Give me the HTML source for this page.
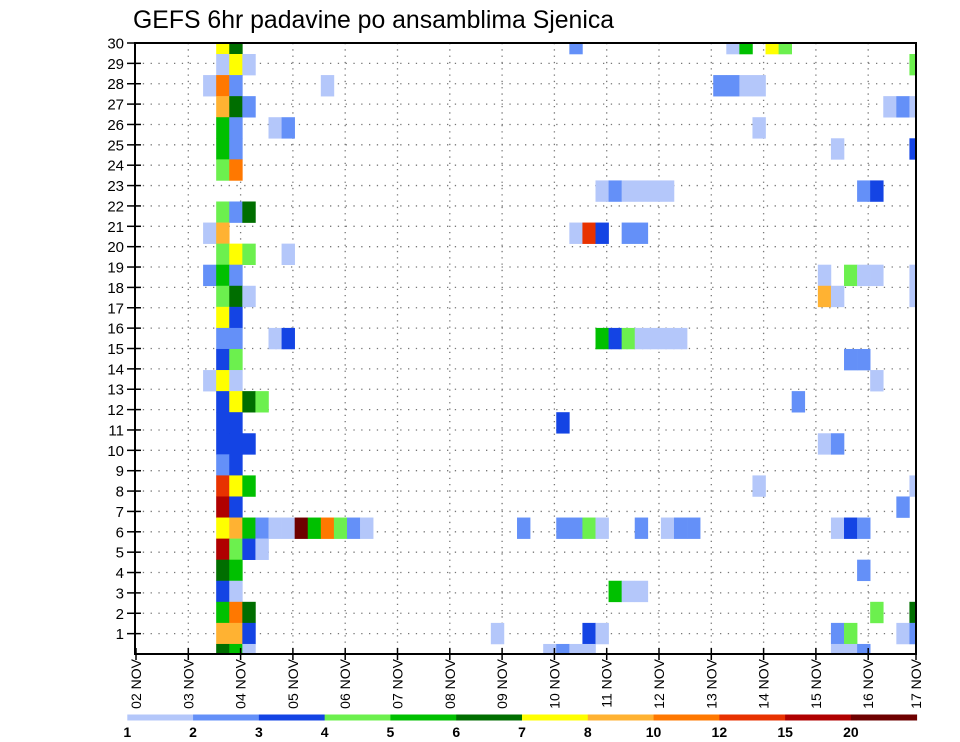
<!DOCTYPE html>
<html><head><meta charset="utf-8"><style>
html,body{margin:0;padding:0;background:#fff;}
svg{display:block;font-family:"Liberation Sans",sans-serif;}
</style></head><body>
<svg id="chart" width="960" height="742" viewBox="0 0 960 742" xmlns="http://www.w3.org/2000/svg">
<defs><clipPath id="plotclip"><rect x="135" y="43" width="781" height="611"/></clipPath></defs>
<text x="133" y="28" font-size="24.8" fill="#000">GEFS 6hr padavine po ansamblima Sjenica</text>
<g id="grid"></g>
<g id="cells" clip-path="url(#plotclip)"></g>
<rect x="135" y="43" width="781" height="611" fill="none" stroke="#000" stroke-width="2"/>
<g id="yaxis"></g>
<g id="xaxis"></g>
<g id="legend"></g>
</svg>
<script>
const NS="http://www.w3.org/2000/svg";
// categories
const memberLabels=[30,29,28,27,26,25,24,23,22,21,20,19,18,17,16,15,14,13,12,11,10,9,8,7,6,5,4,3,2,1];
const dayLabels=["02 NOV","03 NOV","04 NOV","05 NOV","06 NOV","07 NOV","08 NOV","09 NOV","10 NOV","11 NOV","12 NOV","13 NOV","14 NOV","15 NOV","16 NOV","17 NOV"];
const yTicks=[1,2,3,4,5,6,7,8,9,10,11,12,13,14,15,16,17,18,19,20,21,22,23,24,25,26,27,28,29,30];
const levelLabels=["1","2","3","4","5","6","7","8","10","12","15","20"];
const levelBounds=[1,2,3,4,5,6,7,8,10,12,15,20];
const levelColors=["#b4c7fa","#6490f8","#1444e4","#6cf04e","#00c000","#006e00","#ffff00","#ffb232","#ff7800","#e83200","#b00000","#6e0000"];
// series: per member row, pairs of [6h step index, precip mm]
const row0=[[6,7.5],[7,6.5],[33,2.5],[45,1.5],[46,5.5],[48,7.5],[49,4.5]];
const row1=[[6,1.5],[7,7.5],[8,1.5],[59,4.5]];
const row2=[[5,1.5],[6,11],[7,2.5],[14,1.5],[44,2.5],[45,2.5],[46,1.5],[47,1.5]];
const row3=[[6,9],[7,6.5],[8,2.5],[57,1.5],[58,2.5],[59,1.5]];
const row4=[[6,5.5],[7,2.5],[10,1.5],[11,2.5],[47,1.5]];
const row5=[[6,5.5],[7,2.5],[53,1.5],[59,3.5]];
const row6=[[6,4.5],[7,11]];
const row7=[[35,1.5],[36,2.5],[37,1.5],[38,1.5],[39,1.5],[40,1.5],[55,2.5],[56,3.5]];
const row8=[[6,4.5],[7,2.5],[8,6.5]];
const row9=[[5,1.5],[6,9],[33,1.5],[34,13],[35,3.5],[37,2.5],[38,2.5]];
const row10=[[6,4.5],[7,7.5],[8,4.5],[11,1.5]];
const row11=[[5,2.5],[6,5.5],[7,2.5],[52,1.5],[54,4.5],[55,1.5],[56,1.5],[59,1.5]];
const row12=[[6,4.5],[7,6.5],[8,1.5],[52,9],[53,1.5],[59,1.5]];
const row13=[[6,7.5],[7,3.5]];
const row14=[[6,2.5],[7,2.5],[10,1.5],[11,3.5],[35,5.5],[36,3.5],[37,4.5],[38,1.5],[39,1.5],[40,1.5],[41,1.5]];
const row15=[[6,3.5],[7,4.5],[54,2.5],[55,2.5]];
const row16=[[5,1.5],[6,7.5],[7,1.5],[56,1.5]];
const row17=[[6,3.5],[7,7.5],[8,6.5],[9,4.5],[50,2.5]];
const row18=[[6,3.5],[7,3.5],[32,3.5]];
const row19=[[6,3.5],[7,3.5],[8,3.5],[52,1.5],[53,2.5]];
const row20=[[6,2.5],[7,3.5]];
const row21=[[6,13],[7,7.5],[8,5.5],[47,1.5],[59,1.5]];
const row22=[[6,17],[7,3.5],[58,2.5]];
const row23=[[6,7.5],[7,9],[8,5.5],[9,2.5],[10,1.5],[11,1.5],[12,22],[13,5.5],[14,11],[15,4.5],[16,2.5],[17,1.5],[29,2.5],[32,2.5],[33,2.5],[34,4.5],[35,1.5],[38,2.5],[40,1.5],[41,2.5],[42,2.5],[53,1.5],[54,3.5],[55,2.5]];
const row24=[[6,17],[7,4.5],[8,3.5],[9,1.5]];
const row25=[[6,6.5],[7,5.5],[55,2.5]];
const row26=[[6,3.5],[7,1.5],[36,5.5],[37,1.5],[38,1.5]];
const row27=[[6,5.5],[7,11],[8,6.5],[56,4.5],[59,6.5]];
const row28=[[6,9],[7,9],[8,3.5],[27,1.5],[34,3.5],[35,1.5],[53,2.5],[54,4.5],[58,1.5],[59,2.5]];
const row29=[[6,6.5],[7,5.5],[8,1.5],[31,1.5],[32,2.5],[33,1.5],[34,1.5],[53,1.5],[54,1.5],[55,2.5]];
const rows=[row0,row1,row2,row3,row4,row5,row6,row7,row8,row9,row10,row11,row12,row13,row14,row15,row16,row17,row18,row19,row20,row21,row22,row23,row24,row25,row26,row27,row28,row29];

// axis functions
const PL=135,PR=916,PT=43,PB=654;
function xStep(j){return 137.7+13.08*j;}
const stepW=13.08;
function rowTop(k){return k===0?PT:54+(k-1)*21.07;}
function rowBottom(k){return k===0?54:54+k*21.07;}
function yTick(v){return PB-(v)*(PB-PT)/30;}
function xDay(d){return 136+52.3*d;}
function colorFor(v){let c=levelColors[0];for(let i=0;i<levelBounds.length;i++){if(v>=levelBounds[i])c=levelColors[i];}return c;}
function mk(tag,attrs,parent){const e=document.createElementNS(NS,tag);for(const k in attrs)e.setAttribute(k,attrs[k]);parent.appendChild(e);return e;}

const grid=document.getElementById('grid');
yTicks.forEach(v=>{
  const l=mk('line',{x1:PL,x2:PR,y1:yTick(v),y2:yTick(v),stroke:'#777','stroke-width':1.3,'stroke-dasharray':'1.3,6.5'},grid);
  
  
});
dayLabels.forEach((lab,d)=>{
  const x=Math.min(xDay(d),PR);
  if(d>0&&d<15){
    const l=mk('line',{x1:x,x2:x,y1:PT,y2:PB,stroke:'#777','stroke-width':1.3,'stroke-dasharray':'1.3,5'},grid);
    
    
  }
});

const cells=document.getElementById('cells');
rows.forEach((r,k)=>{
  r.forEach(p=>{
    const y0=rowTop(k),y1=rowBottom(k);
    const c=mk('rect',{x:xStep(p[0]),y:y0,width:stepW+0.3,height:y1-y0+0.3,fill:colorFor(p[1])},cells);
    
    
  });
});

const ya=document.getElementById('yaxis');
yTicks.forEach(v=>{
  const y=yTick(v);
  const t=mk('line',{x1:127,x2:141,y1:y,y2:y,stroke:'#000','stroke-width':1.5},ya);
  
  
  const tx=mk('text',{x:124,y:y+5.5,'text-anchor':'end','font-size':15,fill:'#000'},ya);
  tx.textContent=v;
  
  
});

const xa=document.getElementById('xaxis');
dayLabels.forEach((lab,d)=>{
  const x=d===15?PR:xDay(d);
  const t=mk('line',{x1:x,x2:x,y1:PB-6,y2:PB+6,stroke:'#000','stroke-width':1.5},xa);
  
  
  const tx=mk('text',{x:0,y:0,'text-anchor':'end','font-size':14,fill:'#000',transform:'translate('+(x+5)+',659) rotate(-90)'},xa);
  tx.textContent=lab;
  
  
});

const lg=document.getElementById('legend');
const L0=127.3,LW=(916.7-127.3)/12;
levelColors.forEach((c,i)=>{
  const r=mk('rect',{x:L0+i*LW,y:714.5,width:LW+0.4,height:6,fill:c},lg);
  
  
});
levelLabels.forEach((s,i)=>{
  const t=mk('text',{x:L0+i*LW,y:737,'text-anchor':'middle','font-size':14,'font-weight':'bold',fill:'#000'},lg);
  t.textContent=s;
  
  
});
</script>
</body></html>
